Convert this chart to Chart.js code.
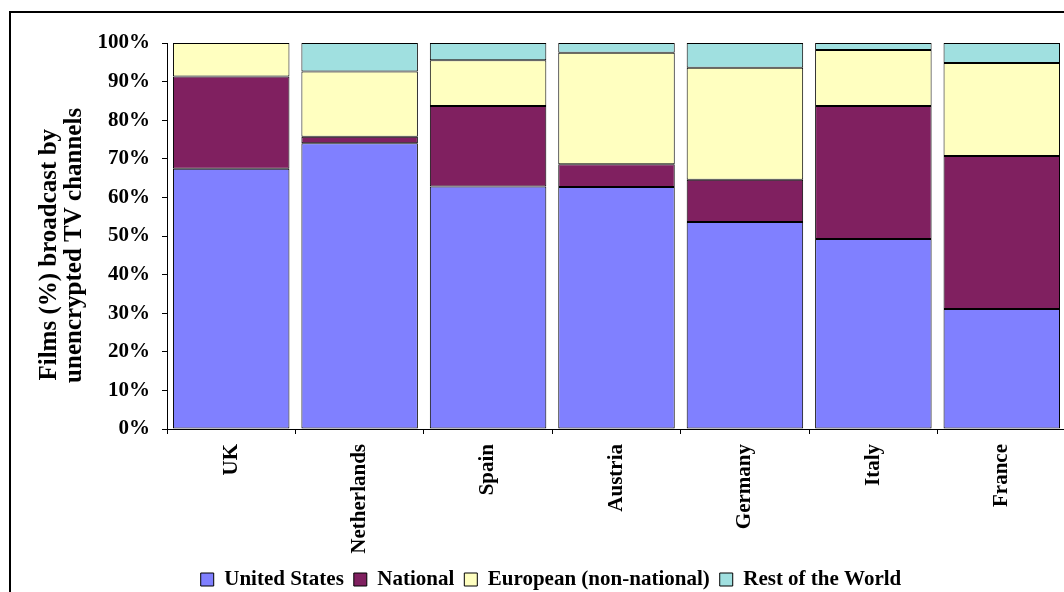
<!DOCTYPE html>
<html lang="en">
<head>
  <meta charset="UTF-8">
  <title>Films broadcast by unencrypted TV channels</title>
  <script src="https://cdn.jsdelivr.net/npm/chart.js"></script>
  <style>
    html, body { margin: 0; padding: 0; background: #fff; overflow: hidden; }
    #frame {
      position: absolute; left: 9px; top: 11px;
      width: 1100px; height: 700px;
      border: 2px solid #000; pointer-events: none;
    }
    #wrap { position: absolute; left: 0; top: 0; width: 1072px; height: 600px; }
  </style>
</head>
<body>
  <div id="frame"></div>
  <div id="wrap"><canvas id="chart"></canvas></div>

  <script>
    const countries = ["UK", "Netherlands", "Spain", "Austria", "Germany", "Italy", "France"];
    const unitedStates = [67.4, 74.0, 62.8, 62.7, 53.6, 49.2, 31.1];
    const national     = [23.9,  1.7, 20.9,  5.9, 11.0, 34.5, 39.6];
    const european     = [ 8.7, 16.9, 11.8, 28.9, 29.0, 14.5, 24.1];
    const restOfWorld  = [ 0.0,  7.4,  4.5,  2.5,  6.4,  1.8,  5.2];
    const yTicks = [0, 10, 20, 30, 40, 50, 60, 70, 80, 90, 100];

    const serif = "'Liberation Serif', 'Times New Roman', serif";

    function series(label, data, color) {
      return {
        label: label,
        data: data,
        backgroundColor: color,
        borderColor: "#000",
        borderWidth: 1,
        borderSkipped: false,
        barPercentage: 0.907,
        categoryPercentage: 1
      };
    }

    new Chart(document.getElementById("chart"), {
      type: "bar",
      data: {
        labels: countries,
        datasets: [
          series("United States", unitedStates, "#8080ff"),
          series("National", national, "#802060"),
          series("European (non-national)", european, "#ffffc0"),
          series("Rest of the World", restOfWorld, "#a0e0e0")
        ]
      },
      options: {
        responsive: true,
        maintainAspectRatio: false,
        animation: false,
        // left padding also pushes the centred legend to the right
        layout: { padding: { top: 43, right: 6, left: 36, bottom: 0 } },
        plugins: {
          tooltip: { enabled: false },
          legend: {
            position: "bottom",
            labels: {
              color: "#000",
              font: { family: serif, size: 21, weight: "bold" },
              boxWidth: 13,
              boxHeight: 13,
              padding: 10
            }
          }
        },
        scales: {
          x: {
            stacked: true,
            grid: { drawOnChartArea: false, drawTicks: true, tickLength: 5, color: "#000", offset: true },
            border: { display: true, color: "#000", width: 1 },
            ticks: {
              color: "#000",
              minRotation: 90,
              maxRotation: 90,
              padding: 10,
              font: { family: serif, size: 21, weight: "bold" }
            },
            afterFit: s => { s.height = 130; }
          },
          y: {
            stacked: true,
            min: 0,
            max: 100,
            afterBuildTicks: s => { s.ticks = yTicks.map(v => ({ value: v })); },
            grid: { drawOnChartArea: false, drawTicks: true, tickLength: 5, color: "#000" },
            border: { display: true, color: "#000", width: 1 },
            ticks: {
              color: "#000",
              padding: 12,
              font: { family: serif, size: 21, weight: "bold" },
              callback: v => v + "%"
            },
            title: {
              display: true,
              // trailing spaces nudge the rotated lines a little lower
              text: ["Films (%) broadcast by      ", "unencrypted TV channels   "],
              color: "#000",
              font: { family: serif, size: 25, weight: "bold", lineHeight: 1.0 },
              padding: { top: 1.5, bottom: 0 }
            },
            afterFit: s => { s.width = 131; }
          }
        }
      }
    });
  </script>
</body>
</html>
